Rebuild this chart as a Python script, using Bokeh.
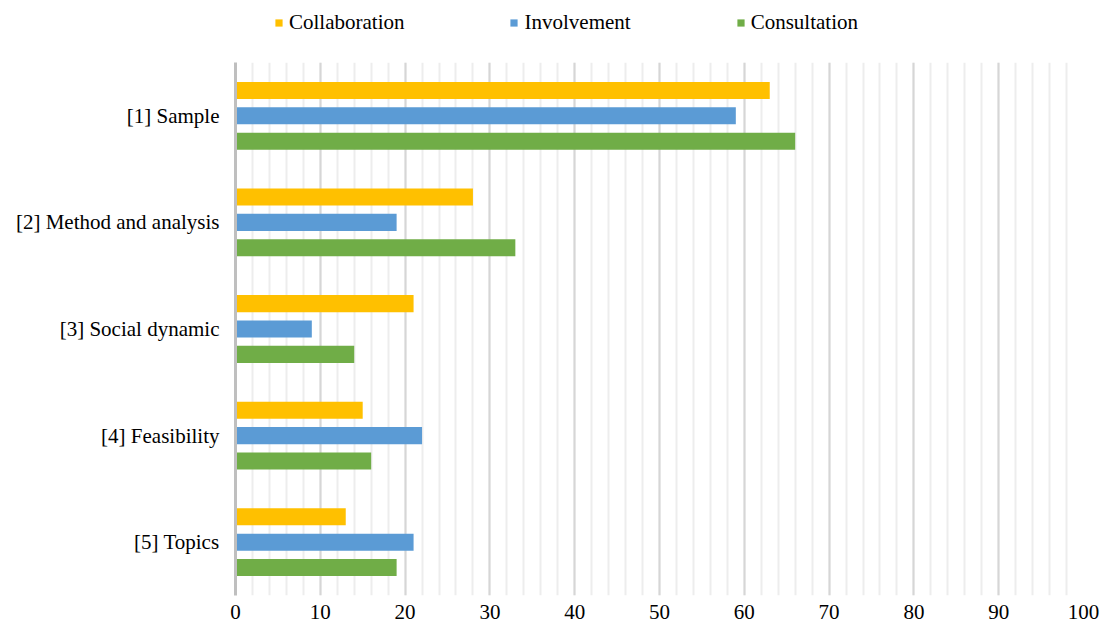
from bokeh.plotting import figure
from bokeh.layouts import column
from bokeh.models import (FactorRange, Range1d, SingleIntervalTicker, Legend,
                          LegendItem, ColumnDataSource)
from bokeh.transform import dodge
from bokeh.embed import file_html
from bokeh.resources import INLINE

categories = ["[1] Sample", "[2] Method and analysis", "[3] Social dynamic",
              "[4] Feasibility", "[5] Topics"]
collaboration = [63, 28, 21, 15, 13]
involvement = [59, 19, 9, 22, 21]
consultation = [66, 33, 14, 16, 19]
series_names = ["Collaboration", "Involvement", "Consultation"]
series_colors = ["#FFC000", "#5B9BD5", "#70AD47"]
x_min, x_max, x_step = 0, 100, 10

FONT = '"Liberation Serif"'

src = ColumnDataSource(dict(cat=categories, collaboration=collaboration,
                            involvement=involvement, consultation=consultation))
fields = ["collaboration", "involvement", "consultation"]
offsets = [0.238, 0.0, -0.238]

# ---------- legend strip ----------
lg = figure(width=1101, height=62,
            y_range=FactorRange(factors=categories[::-1]),
            x_range=Range1d(x_min, x_max),
            output_backend="svg", toolbar_location=None,
            min_border_left=235, min_border_right=18,
            min_border_top=0, min_border_bottom=0)
lg.axis.visible = False
lg.grid.grid_line_color = None
lg.outline_line_color = None
lg_renderers = []
for f, off, col in zip(fields, offsets, series_colors):
    r = lg.hbar(y=dodge("cat", off, range=lg.y_range), right=f, left=0,
                height=0.16, source=src, fill_color=col, line_color=None)
    r.visible = False
    lg_renderers.append(r)
legend = Legend(items=[LegendItem(label=n, renderers=[r])
                       for n, r in zip(series_names, lg_renderers)],
                orientation="horizontal", location=(39, 27),
                glyph_width=9, glyph_height=9, label_standoff=6,
                spacing=105, padding=0, margin=0,
                border_line_color=None, background_fill_alpha=0,
                inactive_fill_alpha=0,
                label_text_font=FONT, label_text_font_size="21px",
                label_text_color="black")
lg.add_layout(legend, "center")

# ---------- main chart ----------
p = figure(width=1101, height=564,
           y_range=FactorRange(factors=categories[::-1]),
           x_range=Range1d(x_min, x_max),
           output_backend="svg", toolbar_location=None,
           min_border_left=235, min_border_right=18,
           min_border_top=0, min_border_bottom=31)

p.outline_line_color = None
p.background_fill_color = "white"
p.border_fill_color = "white"

for f, off, col in zip(fields, offsets, series_colors):
    p.hbar(y=dodge("cat", off, range=p.y_range), right=f, left=0,
           height=0.16, source=src, fill_color=col, line_color=None)

# grid
p.xaxis.ticker = SingleIntervalTicker(interval=x_step, num_minor_ticks=5)
p.xgrid.grid_line_color = "#d6d6d6"
p.xgrid.grid_line_width = 2
p.xgrid.minor_grid_line_color = "#ededed"
p.xgrid.minor_grid_line_width = 2
p.ygrid.grid_line_color = None

# x axis
p.xaxis.axis_line_color = None
p.xaxis.major_tick_line_color = None
p.xaxis.minor_tick_line_color = None
p.xaxis.major_tick_out = 0
p.xaxis.major_tick_in = 0
p.xaxis.minor_tick_out = 0
p.xaxis.major_label_standoff = 9
p.xaxis.major_label_text_font = FONT
p.xaxis.major_label_text_font_size = "21px"
p.xaxis.major_label_text_color = "black"

# y axis
p.yaxis.axis_line_color = "#bfbfbf"
p.yaxis.axis_line_width = 3
p.yaxis.major_tick_line_color = None
p.yaxis.major_tick_out = 0
p.yaxis.major_tick_in = 0
p.yaxis.major_label_standoff = 16
p.yaxis.major_label_text_font = FONT
p.yaxis.major_label_text_font_size = "21px"
p.yaxis.major_label_text_color = "black"

layout = column(lg, p, spacing=0)
open("out.html", "w").write(file_html(layout, INLINE))
